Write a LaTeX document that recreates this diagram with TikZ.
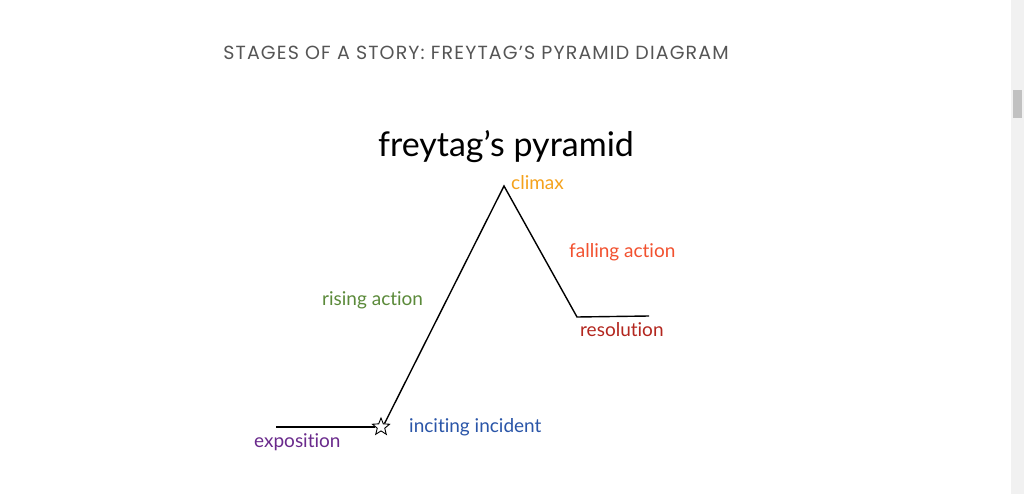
\documentclass[tikz,border=0pt]{standalone}
\usepackage{fontspec}
\setmainfont[Ligatures=NoCommon]{Lato}
\newfontfamily\headfont[LetterSpace=6]{Poppins}
\usetikzlibrary{shapes.geometric}
\definecolor{headgray}{HTML}{555555}
\definecolor{climaxc}{HTML}{F5A21C}
\definecolor{fallc}{HTML}{F2512F}
\definecolor{risec}{HTML}{5B8A3A}
\definecolor{resc}{HTML}{B3261E}
\definecolor{incc}{HTML}{2A55A8}
\definecolor{expc}{HTML}{6A2A8C}
\definecolor{barbg}{HTML}{F1F1F1}
\definecolor{thumb}{HTML}{C1C1C1}
\tikzset{
  lbl/.style={inner sep=0pt, anchor=base west, font=\fontsize{19}{21}\selectfont},
  plot/.style={line width=1.4pt, black, line join=miter},
}
\begin{document}
\begin{tikzpicture}[x=1pt,y=-1pt]
\useasboundingbox (0,0) rectangle (1024,494);
\fill[white] (0,0) rectangle (1024,494);
% scrollbar
\fill[barbg] (1011,0) rectangle (1024,494);
\fill[thumb] (1013,90) rectangle (1022,118);
\node[inner sep=0pt, anchor=base, font=\headfont\fontsize{19}{21}\selectfont, text=headgray] (head) at (476,60) {STAGES OF A STORY: FREYTAG’S PYRAMID DIAGRAM};
\node[inner sep=0pt, anchor=base, font=\fontsize{34}{38}\selectfont] (title) at (506,157) {freytag’s pyramid};
% points
\coordinate (e0) at (276,427);
\node[star, star points=5, star point ratio=2.3, minimum size=18pt, inner sep=0pt, draw, line width=0.9pt, fill=white] (st) at (381,427) {};
\coordinate (pk) at (504,186);
\coordinate (rs) at (577,317);
\coordinate (r1) at (649,316);
\draw[plot] (e0) -- (st.west);
\draw[plot] (st.north east) -- (pk) -- (rs) -- (r1);
% labels
\node[lbl, text=climaxc] (climax) at (511,190) {climax};
\node[lbl, text=fallc] (fall) at (569,257) {falling action};
\node[lbl, text=risec] (rise) at (322,305) {rising action};
\node[lbl, text=resc] (res) at (580,336) {resolution};
\node[lbl, text=incc] (inc) at (409,432) {inciting incident};
\node[lbl, text=expc] (exp) at (254,447) {exposition};
\end{tikzpicture}
\end{document}
